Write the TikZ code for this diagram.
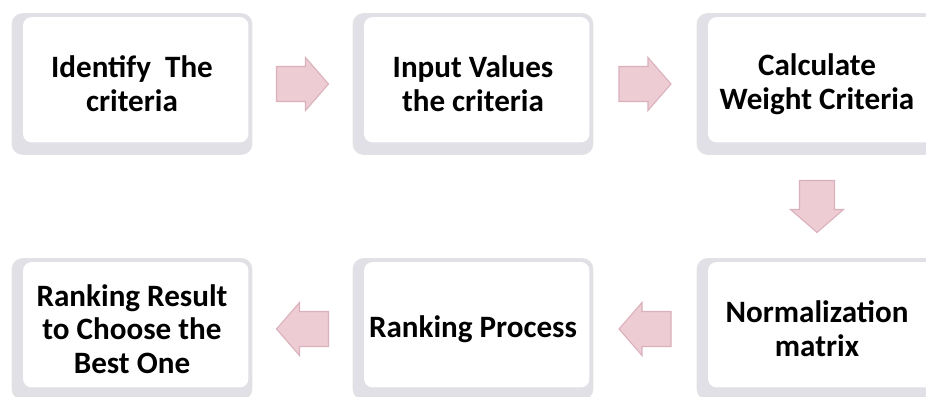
\documentclass[tikz,border=0pt]{standalone}
\usepackage{fontspec}
\setmainfont{Carlito}
\usetikzlibrary{calc}

\definecolor{arrowpink}{RGB}{237,204,211}
\definecolor{arrowedge}{RGB}{218,176,188}
\definecolor{bevelgray}{RGB}{224,224,230}

\tikzset{
  stepbox/.style={rounded corners=6pt, draw=gray!22, fill=bevelgray,
    minimum width=4.8cm, minimum height=2.82cm, align=center, inner sep=0pt,
    font=\fontsize{17.7}{19.2}\selectfont\bfseries,
    path picture={\fill[white,rounded corners=5pt]
      ([shift={(0.22cm,-0.07cm)}]path picture bounding box.north west) rectangle
      ([shift={(-0.07cm,0.24cm)}]path picture bounding box.south east);}},
  blockarrow/.pic={\filldraw[fill=arrowpink,draw=arrowedge,line width=0.6pt,line join=miter]
      (-26,-17.5) -- (3,-17.5) -- (3,-26.5) -- (26,0) -- (3,26.5) -- (3,17.5) -- (-26,17.5) -- cycle;}
}

\begin{document}
\begin{tikzpicture}[x=0.02cm,y=-0.02cm]
        \clip (0,0) rectangle (926,396);
        \fill[white] (0,0) rectangle (926,396);
        % top row
        \node[stepbox] (ident) at (132,84) {Identify\ \ The\\criteria};
        \node[stepbox] (input) at (473,84) {Input Values\\the criteria};
        \node[stepbox] (weight) at (817,84) {Calculate\\Weight Criteria};
        % bottom row
        \node[stepbox] (norm) at (817,329) {Normalization\\matrix};
        \node[stepbox] (rankproc) at (473,329) {Ranking Process};
        \node[stepbox] (result) at (132,329) {Ranking Result\\to Choose the\\Best One};
        % block arrows between the boxes
        \pic at ($(ident.east)!0.5!(input.west)$) {blockarrow};
        \pic at ($(input.east)!0.5!(weight.west)$) {blockarrow};
        \pic[rotate=-90] at ($(weight.south)!0.5!(norm.north)$) {blockarrow};
        \pic[rotate=180] at ($(norm.west)!0.5!(rankproc.east)$) {blockarrow};
        \pic[rotate=180] at ($(rankproc.west)!0.5!(result.east)$) {blockarrow};
      \end{tikzpicture}
\end{document}
